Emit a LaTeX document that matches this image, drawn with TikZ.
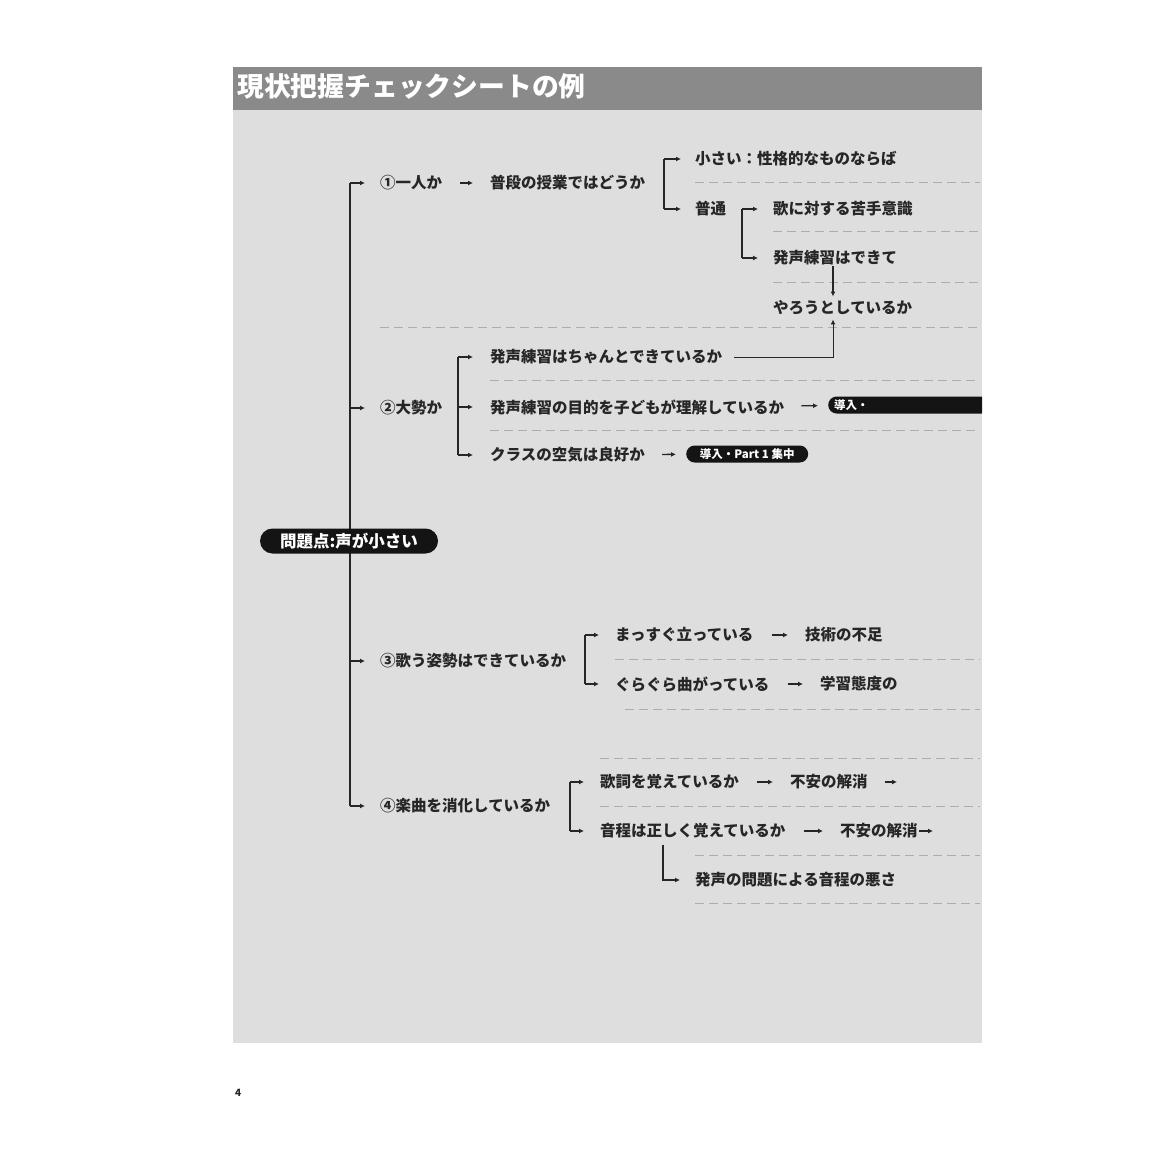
\documentclass[tikz,border=0pt]{standalone}
\usepackage{fontspec}
\setmainfont{Noto Sans CJK JP}
\usetikzlibrary{arrows.meta}
\definecolor{panel}{HTML}{DEDEDE}
\definecolor{bar}{HTML}{8A8A8A}
\definecolor{ink}{HTML}{262626}
\definecolor{rulegray}{HTML}{ADADAD}
\begin{document}
\begin{tikzpicture}[x=1pt,y=-1pt]
    \tikzset{txt/.style={anchor=west,inner sep=0pt,text=ink,font=\fontsize{15.5}{18}\selectfont\bfseries},
    pill/.style={fill=black!92,text=white,inner sep=0pt,font=\bfseries},
    line/.style={draw=ink,line width=1.4pt},
    arr/.style={line,-{Latex[length=5pt,width=5pt]}},
    nx/.style={arr,shorten <=18pt,shorten >=17pt},
    nxp/.style={arr,shorten <=17pt,shorten >=10pt},
    rule/.style={draw=rulegray,line width=1pt,dash pattern=on 9pt off 5pt}}
    \useasboundingbox (0,0) rectangle (1150,1150);
    \fill[panel] (233,67) rectangle (982,1043);
    \fill[bar] (233,67) rectangle (982,110);
    \node[anchor=west,inner sep=0pt,text=white,font=\fontsize{26.8}{30}\selectfont\bfseries] (title) at (237,86) {現状把握チェックシートの例};
    \node[anchor=west,inner sep=0pt,text=ink,font=\fontsize{10}{12}\selectfont\bfseries] (page) at (235,1093) {4};

    % dashed writing lines
    \foreach \xa/\yy in {695/183,773/232,773/282,380/327,490/380,490/430,615/659,625/709,600/758,600/806,695/855,695/903}
      \draw[rule] (\xa,\yy) -- (980,\yy);

    % level 1
    \node[txt] (q1) at (380,183) {①一人か};
    \node[txt] (q2) at (380,408) {②大勢か};
    \node[txt] (q3) at (380,661) {③歌う姿勢はできているか};
    \node[txt] (q4) at (380,806) {④楽曲を消化しているか};
    \coordinate (tk1) at (350,183);
    \coordinate (tk4) at (350,806);
    \draw[line] (tk1) -- (tk4);
    \foreach \q in {q1,q2,q3,q4}
      \draw[arr,shorten >=15pt] (\q.west -| tk1) -- (\q);
    \node[pill,minimum width=178pt,minimum height=25pt,rounded corners=12.5pt,font=\fontsize{16.5}{18}\selectfont\bfseries] (root) at (349,541) {問題点:声が小さい};

    % 1: alone
    \node[txt] (q1a) at (490,183) {普段の授業ではどうか};
    \draw[nx] (q1) -- (q1a);
    \node[txt] (s1) at (695,159) {小さい：性格的なものならば};
    \node[txt] (s2) at (695,209) {普通};
    \coordinate (b1) at (664,0);
    \draw[line] (s1.west -| b1) -- (s2.west -| b1);
    \draw[arr,shorten >=14pt] (s1.west -| b1) -- (s1);
    \draw[arr,shorten >=14pt] (s2.west -| b1) -- (s2);
    \node[txt] (s2a) at (773,209) {歌に対する苦手意識};
    \node[txt] (s2b) at (773,258) {発声練習はできて};
    \node[txt] (s2c) at (773,308) {やろうとしているか};
    \coordinate (b2) at (742,0);
    \draw[line] (s2a.west -| b2) -- (s2b.west -| b2);
    \draw[arr,shorten >=15pt] (s2a.west -| b2) -- (s2a);
    \draw[arr,shorten >=15pt] (s2b.west -| b2) -- (s2b);
    \coordinate (vx) at (833,0);
    \draw[arr,shorten >=4pt] (s2b.south -| vx) -- (s2c.north -| vx);

    % 2: many
    \node[txt] (q2a) at (490,357) {発声練習はちゃんとできているか};
    \node[txt] (q2b) at (490,407) {発声練習の目的を子どもが理解しているか};
    \node[txt] (q2c) at (490,455) {クラスの空気は良好か};
    \coordinate (b3) at (458,0);
    \draw[line] (q2a.west -| b3) -- (q2c.west -| b3);
    \foreach \q in {q2a,q2b,q2c}
      \draw[arr,shorten >=17pt] (\q.west -| b3) -- (\q);
    \draw[draw=ink,line width=1pt,-{Latex[length=5pt,width=5pt]},shorten <=12pt,shorten >=4pt] (q2a.east) -- (q2a.east -| vx) -- (s2c.south -| vx);
    \begin{scope}
      \clip (233,67) rectangle (982,1043);
      \node[pill,anchor=west,text width=150pt,align=left,inner xsep=6pt,minimum height=17pt,rounded corners=8.5pt,font=\fontsize{11.5}{13}\selectfont\bfseries] (p1) at (828,405) {導入・};
    \end{scope}
    \draw[nxp] (q2b) -- (p1);
    \node[pill,anchor=west,minimum width=122pt,minimum height=17pt,rounded corners=8.5pt,font=\fontsize{11.5}{13}\selectfont\bfseries] (p2) at (686,454) {導入・Part 1 集中};
    \draw[nxp] (q2c) -- (p2);

    % 3: posture
    \node[txt] (q3a) at (615,635) {まっすぐ立っている};
    \node[txt] (q3b) at (615,684) {ぐらぐら曲がっている};
    \coordinate (b4) at (585,0);
    \draw[line] (q3a.west -| b4) -- (q3b.west -| b4);
    \draw[arr,shorten >=16pt] (q3a.west -| b4) -- (q3a);
    \draw[arr,shorten >=16pt] (q3b.west -| b4) -- (q3b);
    \node[txt] (q3a2) at (805,635) {技術の不足};
    \node[txt] (q3b2) at (820,684) {学習態度の};
    \draw[nx] (q3a) -- (q3a2);
    \draw[nx] (q3b) -- (q3b2);

    % 4: song
    \node[txt] (q4a) at (600,782) {歌詞を覚えているか};
    \node[txt] (q4b) at (600,831) {音程は正しく覚えているか};
    \coordinate (b5) at (570,0);
    \draw[line] (q4a.west -| b5) -- (q4b.west -| b5);
    \draw[arr,shorten >=16pt] (q4a.west -| b5) -- (q4a);
    \draw[arr,shorten >=16pt] (q4b.west -| b5) -- (q4b);
    \node[txt] (q4a2) at (790,782) {不安の解消};
    \node[txt] (q4b2) at (840,831) {不安の解消};
    \draw[nx] (q4a) -- (q4a2);
    \draw[nx] (q4b) -- (q4b2);
    \coordinate (e1) at (897,782);
    \coordinate (e2) at (933,831);
    \draw[arr,shorten <=17pt] (q4a2) -- (e1);
    \draw[arr,shorten <=1pt] (q4b2) -- (e2);
    \node[txt] (q4c) at (695,880) {発声の問題による音程の悪さ};
    \coordinate (c4) at (663,0);
    \draw[arr,shorten <=6pt,shorten >=15pt] (q4b.south -| c4) |- (q4c);
  \end{tikzpicture}
\end{document}
